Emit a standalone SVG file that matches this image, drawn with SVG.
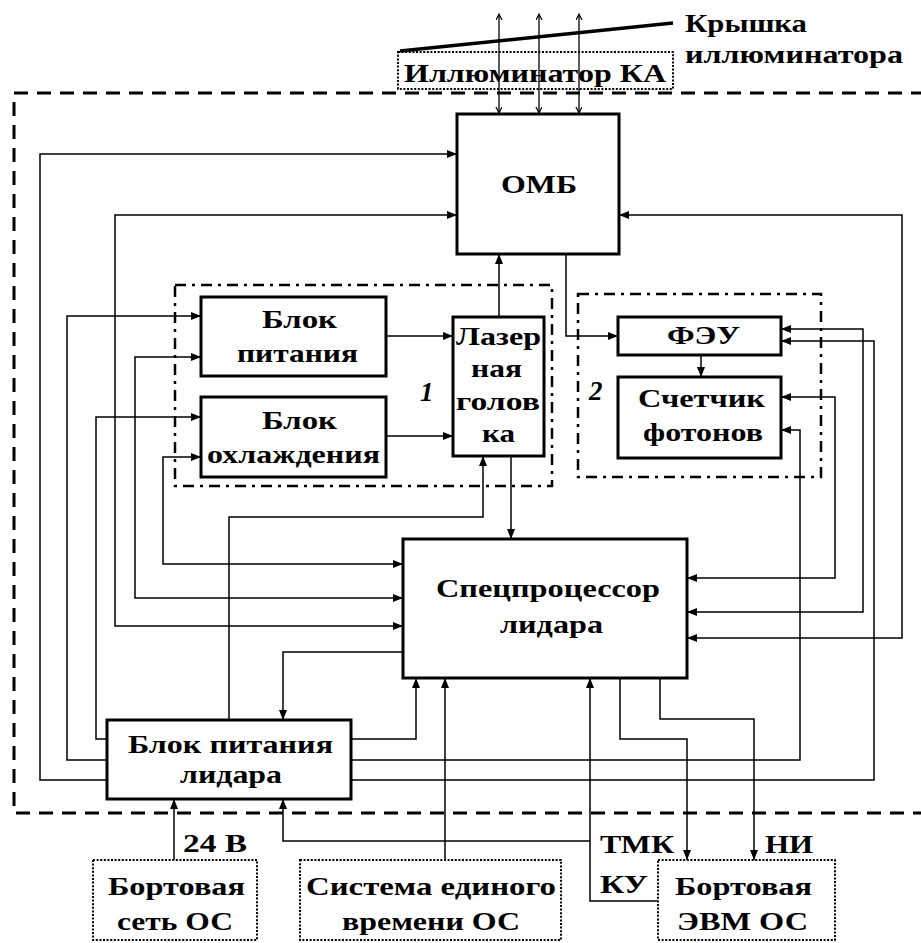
<svg xmlns="http://www.w3.org/2000/svg" width="921" height="943" viewBox="0 0 921 943">
<style>
text{font-family:"Liberation Serif","Times New Roman",serif;font-weight:700;font-size:25px;fill:#000}
.n{font-style:italic;font-size:27px}
.box{fill:#fff;stroke:#000;stroke-width:3}
.dot{fill:#fff;stroke:#000;stroke-width:2;stroke-dasharray:2 1.6}
.dd{fill:none;stroke:#000;stroke-width:2.5;stroke-dasharray:11 6 3 6}
.c{fill:none;stroke:#000;stroke-width:1.5}
.a{marker-end:url(#ah)}
.b{marker-start:url(#ah);marker-end:url(#ah)}
.v{fill:none;stroke:#000;stroke-width:1.3;marker-start:url(#vh);marker-end:url(#vh)}
</style>
<defs>
<marker id="ah" markerUnits="userSpaceOnUse" markerWidth="11" markerHeight="9" refX="10" refY="4" orient="auto-start-reverse">
<path d="M0,0 L10,4 L0,8 z" fill="#000"/>
</marker>
<marker id="vh" markerUnits="userSpaceOnUse" markerWidth="8" markerHeight="8" refX="6" refY="3" orient="auto-start-reverse">
<path d="M0,0 L6,3 L0,6" fill="none" stroke="#000" stroke-width="1.2"/>
</marker>
</defs>

<!-- outer dashed frame -->
<path d="M925,93 H14 V813 H925" fill="none" stroke="#000" stroke-width="3" stroke-dasharray="14 9"/>

<!-- group frames -->
<g id="group1">
<rect class="dd" x="175" y="285" width="377" height="201"/>
<text class="n" x="420" y="401">1</text>
</g>
<g id="group2">
<rect class="dd" x="578" y="294" width="243" height="183"/>
<text class="n" x="589" y="400">2</text>
</g>

<!-- illuminator -->
<g id="illuminator">
<rect class="dot" x="398" y="52" width="275" height="37"/>
<text x="404" y="82" textLength="262" lengthAdjust="spacingAndGlyphs">Иллюминатор КА</text>
</g>
<g id="cover">
<line x1="400" y1="51" x2="673" y2="23" stroke="#000" stroke-width="3.5"/>
<text x="685" y="32" textLength="122" lengthAdjust="spacingAndGlyphs">Крышка</text>
<text x="685" y="63" textLength="218" lengthAdjust="spacingAndGlyphs">иллюминатора</text>
</g>

<!-- connectors -->
<g id="connectors">
<path class="v" d="M499,14 V113"/>
<path class="v" d="M539,14 V113"/>
<path class="v" d="M579,14 V113"/>
<path class="c a" d="M107,780 H40 V154 H457"/>
<path class="c a" d="M107,760 H67 V316 H201"/>
<path class="c a" d="M107,739 H96 V417 H201"/>
<path class="c b" d="M457,215 H115 V626 H403"/>
<path class="c b" d="M201,357 H135 V598 H403"/>
<path class="c b" d="M201,457 H163 V564 H403"/>
<path class="c a" d="M386,336 H453"/>
<path class="c a" d="M386,436 H453"/>
<path class="c a" d="M499,317 V254"/>
<path class="c a" d="M511,456 V539"/>
<path class="c a" d="M229,720 V517 H483 V456"/>
<path class="c a" d="M566,254 V336 H618"/>
<path class="c a" d="M701,355 V377"/>
<path class="c b" d="M781,329 H863 V612 H687"/>
<path class="c b" d="M781,397 H835 V578 H687"/>
<path class="c b" d="M619,215 H902 V638 H687"/>
<path class="c a" d="M351,760 H800 V430 H781"/>
<path class="c a" d="M351,780 H874 V341 H781"/>
<path class="c a" d="M351,739 H416 V678"/>
<path class="c a" d="M403,652 H283 V720"/>
<path class="c a" d="M445,860 V678"/>
<path class="c a" d="M658,901 H590 V678"/>
<path class="c a" d="M590,841 H283 V799"/>
<path class="c a" d="M174,860 V799"/>
<path class="c a" d="M620,678 V739 H687 V860"/>
<path class="c a" d="M660,678 V719 H754 V860"/>
</g>

<!-- nodes -->
<g id="omb">
<rect class="box" x="457" y="114" width="162" height="140"/>
<text x="501" y="193" textLength="76" lengthAdjust="spacingAndGlyphs">ОМБ</text>
</g>
<g id="power-unit">
<rect class="box" x="201" y="297" width="185" height="79"/>
<text x="262" y="328" textLength="75" lengthAdjust="spacingAndGlyphs">Блок</text>
<text x="237" y="362" textLength="121" lengthAdjust="spacingAndGlyphs">питания</text>
</g>
<g id="cooling-unit">
<rect class="box" x="201" y="397" width="185" height="80"/>
<text x="262" y="429" textLength="75" lengthAdjust="spacingAndGlyphs">Блок</text>
<text x="207" y="463" textLength="173" lengthAdjust="spacingAndGlyphs">охлаждения</text>
</g>
<g id="laser-head">
<rect class="box" x="453" y="317" width="91" height="139"/>
<text x="456" y="345" textLength="85" lengthAdjust="spacingAndGlyphs">Лазер</text>
<text x="471" y="377" textLength="51" lengthAdjust="spacingAndGlyphs">ная</text>
<text x="456" y="410" textLength="84" lengthAdjust="spacingAndGlyphs">голов</text>
<text x="482" y="442" textLength="33" lengthAdjust="spacingAndGlyphs">ка</text>
</g>
<g id="feu">
<rect class="box" x="618" y="317" width="163" height="38"/>
<text x="667" y="344" textLength="73" lengthAdjust="spacingAndGlyphs">ФЭУ</text>
</g>
<g id="photon-counter">
<rect class="box" x="618" y="377" width="163" height="81"/>
<text x="638" y="407" textLength="127" lengthAdjust="spacingAndGlyphs">Счетчик</text>
<text x="643" y="441" textLength="120" lengthAdjust="spacingAndGlyphs">фотонов</text>
</g>
<g id="processor">
<rect class="box" x="403" y="539" width="284" height="139"/>
<text x="436" y="597" textLength="224" lengthAdjust="spacingAndGlyphs">Спецпроцессор</text>
<text x="500" y="633" textLength="103" lengthAdjust="spacingAndGlyphs">лидара</text>
</g>
<g id="lidar-power">
<rect class="box" x="107" y="720" width="244" height="79"/>
<text x="128" y="753" textLength="205" lengthAdjust="spacingAndGlyphs">Блок питания</text>
<text x="180" y="783" textLength="102" lengthAdjust="spacingAndGlyphs">лидара</text>
</g>
<g id="board-network">
<rect class="dot" x="93" y="860" width="164" height="80"/>
<text x="108" y="895" textLength="137" lengthAdjust="spacingAndGlyphs">Бортовая</text>
<text x="117" y="930" textLength="116" lengthAdjust="spacingAndGlyphs">сеть ОС</text>
</g>
<g id="time-system">
<rect class="dot" x="300" y="860" width="261" height="80"/>
<text x="306" y="895" textLength="250" lengthAdjust="spacingAndGlyphs">Система единого</text>
<text x="342" y="930" textLength="178" lengthAdjust="spacingAndGlyphs">времени ОС</text>
</g>
<g id="board-computer">
<rect class="dot" x="658" y="860" width="177" height="80"/>
<text x="675" y="895" textLength="137" lengthAdjust="spacingAndGlyphs">Бортовая</text>
<text x="677" y="930" textLength="131" lengthAdjust="spacingAndGlyphs">ЭВМ ОС</text>
</g>

<!-- connector labels -->
<g id="labels">
<text x="183" y="852" textLength="64" lengthAdjust="spacingAndGlyphs">24 В</text>
<text x="600" y="853" textLength="74" lengthAdjust="spacingAndGlyphs">ТМК</text>
<text x="765" y="853" textLength="48" lengthAdjust="spacingAndGlyphs">НИ</text>
<text x="600" y="893" textLength="48" lengthAdjust="spacingAndGlyphs">КУ</text>
</g>
</svg>
